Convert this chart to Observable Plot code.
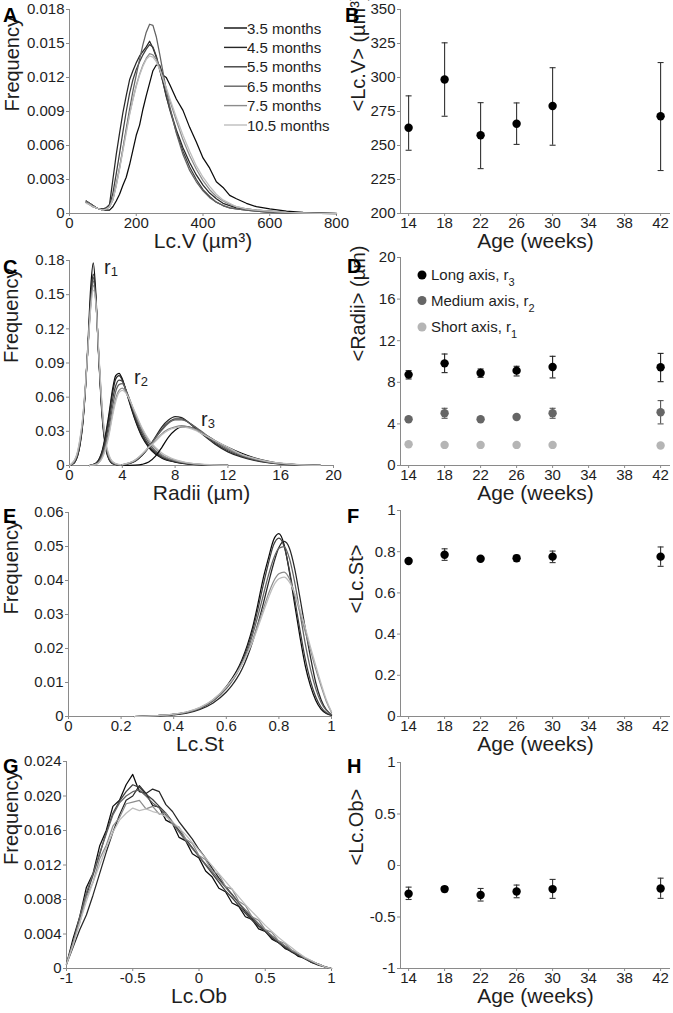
<!DOCTYPE html>
<html><head><meta charset="utf-8">
<script src="https://cdn.jsdelivr.net/npm/d3@7"></script>
<script src="https://cdn.jsdelivr.net/npm/@observablehq/plot@0.6"></script>
<style>
html,body{margin:0;padding:0;background:#fff;}
#fig{position:relative;width:673px;height:1013px;overflow:hidden;font-family:"Liberation Sans",Arial,sans-serif;}
#fig svg{overflow:visible;}
</style></head><body><div id="fig"></div>
<script>
// ---------- series ----------
const seriesNames = ["3.5 months","4.5 months","5.5 months","6.5 months","7.5 months","10.5 months"];
const seriesColors = ["#0a0a0a","#262626","#3f3f3f","#626262","#8c8c8c","#bdbdbd"];

// ---------- Panel A: Lc.V distributions ----------
const lcvX = [50,60,70,80,90,100,110,120,130,140,150,160,170,180,190,200,210,220,230,240,250,260,270,280,290,300,320,340,360,380,400,420,440,460,480,500,530,560,600,650,700,750,800];
const lcvF35 = [.0011,.0009,.0007,.0005,.0004,.0003,.0003,.0003,.0006,.0011,.0017,.0025,.0032,.0043,.0056,.0069,.0078,.0092,.0104,.0115,.0126,.0131,.0131,.0122,.0120,.0114,.0101,.0091,.0076,.0063,.0049,.0040,.0028,.0023,.0016,.0013,.0009,.0006,.0004,.0002,.0001,.00005,.00002];
const lcvF45 = [.0010,.0009,.0007,.0005,.0004,.0004,.0005,.0008,.0030,.0052,.0071,.0089,.0104,.0118,.0126,.0133,.0139,.0143,.0147,.0152,.0146,.0138,.0127,.0116,.0103,.0093,.0074,.0058,.0045,.0034,.0025,.0018,.0013,.0009,.0007,.0005,.0004,.0003,.0002,.0001,.00005,.00002,0];
const lcvF55 = [.0010,.0008,.0006,.0005,.0004,.0004,.0005,.0007,.0018,.0035,.0053,.0072,.0090,.0106,.0118,.0127,.0134,.0140,.0145,.0149,.0147,.0139,.0128,.0116,.0104,.0092,.0072,.0055,.0041,.0030,.0021,.0015,.0010,.0007,.0005,.0004,.0003,.0002,.0001,.00005,.00002,0,0];
const lcvF65 = [.0011,.0009,.0007,.0005,.0004,.0003,.0004,.0006,.0012,.0025,.0040,.0057,.0075,.0092,.0108,.0122,.0136,.0149,.0160,.0167,.0166,.0156,.0141,.0125,.0109,.0095,.0071,.0052,.0038,.0028,.0020,.0014,.0010,.0007,.0005,.0004,.0003,.0002,.0001,.00005,.00002,0,0];
const lcvF75 = [.0010,.0008,.0006,.0005,.0004,.0003,.0004,.0006,.0013,.0026,.0041,.0057,.0073,.0088,.0101,.0113,.0123,.0131,.0137,.0141,.0140,.0136,.0129,.0120,.0110,.0100,.0082,.0065,.0051,.0039,.0029,.0021,.0015,.0011,.0008,.0006,.0004,.0003,.0002,.0001,.00004,.00002,0];
const lcvF105 = [.0009,.0008,.0006,.0005,.0004,.0003,.0004,.0006,.0012,.0024,.0039,.0055,.0071,.0087,.0100,.0112,.0122,.0130,.0136,.0139,.0138,.0134,.0127,.0119,.0111,.0102,.0085,.0069,.0055,.0042,.0032,.0024,.0017,.0012,.0009,.0006,.0004,.0003,.0002,.0001,.00005,.00002,0];

// ---------- Panel C: radii distributions ----------
const r1X = [0,0.2,0.4,0.6,0.8,1.0,1.2,1.4,1.6,1.8,2.0,2.2,2.4,2.6,2.8,3.0,3.2,3.5,4.0];
const r1F35 = [0,.001,.003,.008,.018,.036,.066,.108,.155,.178,.150,.098,.055,.027,.012,.005,.002,.0008,.0002];
const r1F45 = [0,.001,.003,.008,.019,.037,.066,.104,.146,.168,.146,.099,.057,.029,.013,.006,.0025,.001,.0003];
const r1F55 = [0,.001,.004,.009,.020,.038,.067,.104,.143,.165,.145,.100,.058,.030,.014,.006,.003,.001,.0003];
const r1F65 = [0,.001,.004,.010,.021,.039,.068,.104,.141,.162,.144,.101,.060,.031,.015,.007,.003,.001,.0004];
const r1F75 = [0,.002,.005,.011,.023,.041,.069,.104,.139,.158,.143,.102,.062,.033,.016,.008,.004,.0015,.0005];
const r1F105 = [0,.002,.005,.012,.024,.042,.069,.103,.137,.154,.142,.103,.064,.035,.018,.009,.004,.0017,.0005];
const r2X = [1.5,2.0,2.5,3.0,3.25,3.5,3.75,4.0,4.25,4.5,5.0,5.5,6.0,6.5,7.0,8.0,9.0,10.0,11.0,12.0];
const r2F35 = [0,.002,.014,.046,.066,.079,.081,.076,.067,.057,.039,.025,.016,.010,.0065,.0030,.0013,.0006,.0002,.0001];
const r2F45 = [0,.002,.013,.043,.063,.076,.079,.075,.067,.058,.040,.026,.017,.011,.007,.0032,.0014,.0006,.0003,.0001];
const r2F55 = [0,.0015,.011,.038,.057,.070,.075,.074,.067,.059,.042,.028,.018,.012,.0075,.0035,.0016,.0007,.0003,.0001];
const r2F65 = [0,.0012,.009,.033,.051,.065,.071,.072,.067,.060,.044,.030,.020,.013,.0085,.0040,.0018,.0008,.0003,.0001];
const r2F75 = [0,.001,.008,.029,.045,.059,.066,.068,.065,.059,.045,.032,.022,.015,.0095,.0045,.0021,.0010,.0004,.0002];
const r2F105 = [0,.001,.007,.027,.043,.056,.064,.066,.064,.059,.046,.033,.023,.016,.011,.0052,.0024,.0011,.0005,.0002];
const r3X = [4,5,5.5,6,6.5,7,7.5,8,8.5,9,9.5,10,11,12,13,14,15,16,17,18,19];
const r3F35 = [0,.0003,.001,.003,.008,.016,.025,.031,.034,.034,.032,.029,.022,.016,.011,.0068,.0038,.0019,.0009,.0004,.0001];
const r3F45 = [.0005,.004,.009,.016,.025,.034,.040,.043,.042,.038,.033,.028,.019,.012,.0075,.0045,.0025,.0013,.0006,.0003,.0001];
const r3F55 = [.0006,.004,.009,.016,.024,.032,.038,.041,.041,.038,.034,.029,.020,.013,.0082,.0049,.0028,.0015,.0007,.0003,.0001];
const r3F65 = [.0006,.0045,.0095,.016,.024,.031,.037,.040,.040,.038,.034,.030,.021,.014,.0088,.0053,.0030,.0016,.0008,.0003,.0001];
const r3F75 = [.0007,.005,.010,.016,.022,.028,.032,.034,.035,.034,.032,.029,.022,.015,.0098,.006,.0035,.0019,.0009,.0004,.0002];
const r3F105 = [.0008,.005,.010,.016,.021,.027,.031,.033,.034,.033,.031,.028,.022,.016,.010,.0063,.0037,.0020,.0010,.0004,.0002];

// ---------- Panel E: Lc.St distributions ----------
const stX = [0.25,0.3,0.35,0.4,0.45,0.5,0.55,0.6,0.62,0.64,0.66,0.68,0.7,0.72,0.74,0.76,0.78,0.8,0.82,0.84,0.86,0.88,0.9,0.92,0.94,0.96,0.98,1.0];
const stF35 = [0,.0001,.0003,.0006,.0012,.0025,.0048,.0088,.0110,.0135,.0168,.0210,.0262,.0330,.0405,.0465,.0520,.0538,.0505,.0425,.0330,.0235,.0150,.0090,.0048,.0022,.0009,.0003];
const stF45 = [0,.0001,.0002,.0005,.0010,.0021,.0040,.0072,.0090,.0112,.0140,.0176,.0220,.0272,.0330,.0392,.0450,.0497,.0515,.0495,.0435,.0350,.0260,.0175,.0100,.0050,.0020,.0006];
const stF55 = [0,.0001,.0003,.0006,.0012,.0024,.0046,.0084,.0105,.0130,.0162,.0202,.0252,.0315,.0385,.0450,.0505,.0525,.0500,.0430,.0345,.0255,.0170,.0105,.0058,.0028,.0011,.0004];
const stF65 = [0,.0001,.0003,.0006,.0012,.0024,.0046,.0082,.0102,.0126,.0156,.0193,.0240,.0295,.0355,.0415,.0465,.0495,.0500,.0465,.0395,.0305,.0215,.0140,.0082,.0042,.0018,.0006];
const stF75 = [0,.0001,.0003,.0007,.0013,.0026,.0049,.0086,.0105,.0128,.0155,.0187,.0225,.0270,.0315,.0360,.0398,.0420,.0425,.0405,.0360,.0305,.0250,.0195,.0140,.0090,.0045,.0012];
const stF105 = [0,.0001,.0003,.0007,.0014,.0027,.0050,.0087,.0106,.0128,.0154,.0185,.0220,.0262,.0305,.0348,.0385,.0405,.0410,.0395,.0362,.0315,.0262,.0205,.0150,.0098,.0050,.0014];

// ---------- Panel G: Lc.Ob distributions ----------
const obX = [-1,-0.95,-0.9,-0.85,-0.8,-0.75,-0.7,-0.65,-0.6,-0.55,-0.5,-0.45,-0.4,-0.35,-0.3,-0.25,-0.2,-0.15,-0.1,-0.05,0,0.05,0.1,0.15,0.2,0.25,0.3,0.35,0.4,0.45,0.5,0.55,0.6,0.65,0.7,0.75,0.8,0.85,0.9,0.95,1];
const obF35 = [.0005,.0035,.0060,.0094,.0110,.0142,.0160,.0188,.0195,.0213,.0225,.0205,.0203,.0189,.0187,.0172,.0168,.0152,.0148,.0133,.0128,.0113,.0106,.0093,.0089,.0076,.0072,.0060,.0057,.0046,.0043,.0034,.0030,.0023,.0020,.0014,.0012,.0007,.0005,.0002,0];
const obF45 = [.0005,.0025,.0045,.0062,.0085,.0110,.0135,.0158,.0178,.0195,.0200,.0212,.0203,.0208,.0205,.0190,.0182,.0170,.0160,.0150,.0138,.0128,.0116,.0105,.0095,.0086,.0076,.0066,.0058,.0050,.0043,.0036,.0030,.0024,.0019,.0015,.0011,.0007,.0004,.0002,0];
const obF55 = [.0005,.0030,.0058,.0085,.0108,.0132,.0158,.0180,.0194,.0205,.0213,.0210,.0202,.0196,.0188,.0180,.0170,.0160,.0150,.0140,.0130,.0120,.0110,.0100,.0090,.0082,.0073,.0064,.0056,.0049,.0043,.0036,.0030,.0025,.0020,.0016,.0012,.0008,.0005,.0002,0];
const obF65 = [.0005,.0030,.0060,.0088,.0110,.0134,.0156,.0178,.0192,.0200,.0205,.0207,.0200,.0192,.0186,.0178,.0168,.0158,.0148,.0139,.0130,.0121,.0112,.0103,.0094,.0085,.0076,.0068,.0060,.0052,.0045,.0038,.0032,.0026,.0021,.0016,.0012,.0008,.0005,.0002,0];
const obF75 = [.0005,.0030,.0053,.0083,.0100,.0127,.0143,.0165,.0175,.0191,.0193,.0195,.0185,.0188,.0179,.0180,.0167,.0164,.0150,.0145,.0131,.0126,.0113,.0109,.0095,.0092,.0078,.0073,.0060,.0056,.0045,.0042,.0032,.0029,.0021,.0018,.0012,.0009,.0005,.0002,0];
const obF105 = [.0005,.0027,.0053,.0078,.0100,.0120,.0140,.0158,.0172,.0180,.0186,.0183,.0185,.0182,.0180,.0176,.0170,.0163,.0155,.0146,.0137,.0128,.0119,.0110,.0101,.0092,.0083,.0074,.0066,.0058,.0050,.0043,.0036,.0030,.0024,.0018,.0013,.0009,.0005,.0002,0];

// ---------- Age panels ----------
const ages = [14,18,22,26,30,42];
const ageTicks = [14,18,22,26,30,34,38,42];
const lcvMean = [263,298.5,257.5,266,279,271.5];
const lcvLo   = [246.5,271.5,233,250.8,250.2,231.6];
const lcvHi   = [286.5,325.5,281.5,281.3,307.2,311];
const radiiNames = ["Long axis, r3","Medium axis, r2","Short axis, r1"];
const r3Mean = [8.74,9.82,8.9,9.12,9.47,9.44];
const r3Lo   = [8.32,8.93,8.48,8.61,8.42,8.06];
const r3Hi   = [9.12,10.72,9.28,9.54,10.5,10.78];
const r2Mean = [4.45,5.02,4.45,4.67,5.02,5.12];
const r2Lo   = [4.3,4.54,4.35,4.52,4.54,4.0];
const r2Hi   = [4.6,5.5,4.55,4.82,5.5,6.24];
const r1Mean = [2.05,1.98,1.98,1.98,1.98,1.92];
const r1Lo   = [2.0,1.94,1.94,1.94,1.94,1.87];
const r1Hi   = [2.1,2.02,2.02,2.02,2.02,1.97];
const stMean = [0.755,0.785,0.766,0.768,0.776,0.776];
const stLo   = [0.748,0.758,0.760,0.753,0.747,0.729];
const stHi   = [0.762,0.814,0.772,0.783,0.803,0.823];
const obMean = [-0.274,-0.229,-0.287,-0.252,-0.229,-0.223];
const obLo   = [-0.33,-0.255,-0.345,-0.313,-0.319,-0.319];
const obHi   = [-0.21,-0.206,-0.223,-0.19,-0.135,-0.123];

// ---------- helpers ----------
const AXIS = "#8a8a8a", INK = "#1e1e1e", FONT = '"Liberation Sans", Arial, sans-serif';
const fig = document.getElementById("fig");
const capSymbol = {draw(ctx, size) { const w = Math.sqrt(size / Math.PI); ctx.moveTo(-w, 0); ctx.lineTo(w, 0); }};
const colorScale = {domain: seriesNames, range: seriesColors};

function toRows(xs, list, group = "") {
  const out = [];
  list.forEach((ys, k) => ys.forEach((y, i) => out.push({x: xs[i], y, series: seriesNames[k], key: group + seriesNames[k]})));
  return out;
}
function statRows(means, los, his, group) {
  return ages.map((a, i) => ({age: a, v: means[i], lo: los[i], hi: his[i], group}));
}

function panel(cfg) {
  const [x0, x1, y0, y1] = cfg.frame;
  const [left, width] = cfg.col;
  const top = y0 - 9, height = y1 + 45 - top;
  const svg = Plot.plot({
    width, height,
    marginLeft: x0 - left, marginRight: left + width - x1, marginTop: 9, marginBottom: 45,
    x: {domain: cfg.xDomain}, y: {domain: cfg.yDomain},
    color: cfg.color,
    style: {fontSize: "15px", fontFamily: FONT, background: "transparent", color: INK, overflow: "visible"},
    marks: [
      Plot.ruleX([cfg.xDomain[0]], {stroke: AXIS, strokeWidth: 1}),
      Plot.ruleY([cfg.yDomain[0]], {stroke: AXIS, strokeWidth: 1}),
      Plot.axisX(cfg.xTicks, {tickSize: 3, tickPadding: 1, tickFormat: cfg.xFmt, stroke: AXIS, fill: INK, label: null}),
      Plot.axisY(cfg.yTicks, {tickSize: 3, tickPadding: 2, tickFormat: cfg.yFmt, stroke: AXIS, fill: INK, label: null}),
      ...cfg.marks,
      Plot.text([cfg.xLabel], {frameAnchor: "bottom", dy: 34, text: d => d, fontSize: 21, fill: INK}),
      Plot.text([cfg.yLabel], {frameAnchor: "left", dx: cfg.yLabelDx, rotate: -90, text: d => d, fontSize: 20, fill: INK})
    ]
  });
  svg.style.position = "absolute";
  svg.style.left = left + "px";
  svg.style.top = top + "px";
  fig.appendChild(svg);
}

const str = d => String(d);
const fix = n => d => d === 0 ? "0" : d.toFixed(n);

function distMarks(rows, curve) {
  return [Plot.line(rows, {x: "x", y: "y", z: "key", stroke: "series", strokeWidth: 1.25, curve})];
}
function statMarks(rows, barColor, dotFill) {
  return [
    Plot.ruleX(rows, {x: "age", y1: "lo", y2: "hi", stroke: barColor, strokeWidth: 1.1}),
    Plot.dot(rows, {x: "age", y: "lo", symbol: capSymbol, r: 3, stroke: barColor, strokeWidth: 1.1, fill: "none"}),
    Plot.dot(rows, {x: "age", y: "hi", symbol: capSymbol, r: 3, stroke: barColor, strokeWidth: 1.1, fill: "none"}),
    Plot.dot(rows, {x: "age", y: "v", r: 4.2, fill: dotFill, stroke: "none"})
  ];
}

// A
panel({frame: [69, 336, 9, 213], col: [0, 340], xDomain: [0, 800], yDomain: [0, 0.018],
  xTicks: [0,200,400,600,800], yTicks: [0,0.003,0.006,0.009,0.012,0.015,0.018], xFmt: str, yFmt: fix(3),
  color: colorScale, xLabel: "Lc.V (µm³)", yLabel: "Frequency", yLabelDx: -57,
  marks: distMarks(toRows(lcvX, [lcvF35, lcvF45, lcvF55, lcvF65, lcvF75, lcvF105]), "linear")});
// B
panel({frame: [400, 670, 9, 213], col: [340, 333], xDomain: [13.1, 43.1], yDomain: [200, 350],
  xTicks: ageTicks, yTicks: [200,225,250,275,300,325,350], xFmt: str, yFmt: str,
  xLabel: "Age (weeks)", yLabel: "<Lc.V> (µm³)", yLabelDx: -42,
  marks: statMarks(statRows(lcvMean, lcvLo, lcvHi, "v"), "#333", "#000")});
// C
panel({frame: [69, 333, 260, 465], col: [0, 340], xDomain: [0, 20], yDomain: [0, 0.18],
  xTicks: [0,4,8,12,16,20], yTicks: [0,0.03,0.06,0.09,0.12,0.15,0.18], xFmt: str, yFmt: fix(2),
  color: colorScale, xLabel: "Radii (µm)", yLabel: "Frequency", yLabelDx: -58,
  marks: distMarks([
    ...toRows(r1X, [r1F35, r1F45, r1F55, r1F65, r1F75, r1F105], "r1"),
    ...toRows(r2X, [r2F35, r2F45, r2F55, r2F65, r2F75, r2F105], "r2"),
    ...toRows(r3X, [r3F35, r3F45, r3F55, r3F65, r3F75, r3F105], "r3")], "monotone-x")});
// D
panel({frame: [400, 670, 257, 465], col: [340, 333], xDomain: [13.1, 43.1], yDomain: [0, 20],
  xTicks: ageTicks, yTicks: [0,4,8,12,16,20], xFmt: str, yFmt: str,
  xLabel: "Age (weeks)", yLabel: "<Radii> (µm)", yLabelDx: -42,
  marks: [
    ...statMarks(statRows(r1Mean, r1Lo, r1Hi, "r1"), "#b5b5b5", "#b5b5b5"),
    ...statMarks(statRows(r2Mean, r2Lo, r2Hi, "r2"), "#555", "#666"),
    ...statMarks(statRows(r3Mean, r3Lo, r3Hi, "r3"), "#222", "#000")]});
// E
panel({frame: [68, 331, 512, 716], col: [0, 340], xDomain: [0, 1], yDomain: [0, 0.06],
  xTicks: [0,0.2,0.4,0.6,0.8,1], yTicks: [0,0.01,0.02,0.03,0.04,0.05,0.06], xFmt: str, yFmt: fix(2),
  color: colorScale, xLabel: "Lc.St", yLabel: "Frequency", yLabelDx: -57,
  marks: distMarks(toRows(stX, [stF35, stF45, stF55, stF65, stF75, stF105]), "monotone-x")});
// F
panel({frame: [400, 670, 510, 716], col: [340, 333], xDomain: [13.1, 43.1], yDomain: [0, 1],
  xTicks: ageTicks, yTicks: [0,0.2,0.4,0.6,0.8,1], xFmt: str, yFmt: str,
  xLabel: "Age (weeks)", yLabel: "<Lc.St>", yLabelDx: -44,
  marks: statMarks(statRows(stMean, stLo, stHi, "st"), "#333", "#000")});
// G
panel({frame: [66, 331, 761, 968], col: [0, 340], xDomain: [-1, 1], yDomain: [0, 0.024],
  xTicks: [-1,-0.5,0,0.5,1], yTicks: [0,0.004,0.008,0.012,0.016,0.020,0.024], xFmt: str, yFmt: fix(3),
  color: colorScale, xLabel: "Lc.Ob", yLabel: "Frequency", yLabelDx: -55,
  marks: distMarks(toRows(obX, [obF35, obF45, obF55, obF65, obF75, obF105]), "linear")});
// H
panel({frame: [400, 670, 762, 968], col: [340, 333], xDomain: [13.1, 43.1], yDomain: [-1, 1],
  xTicks: ageTicks, yTicks: [-1,-0.5,0,0.5,1], xFmt: str, yFmt: str,
  xLabel: "Age (weeks)", yLabel: "<Lc.Ob>", yLabelDx: -44,
  marks: statMarks(statRows(obMean, obLo, obHi, "ob"), "#333", "#000")});

// ---------- overlay: panel letters, legends, annotations ----------
const ov = d3.select(fig).append("svg")
  .attr("width", 673).attr("height", 1013)
  .style("position", "absolute").style("left", "0px").style("top", "0px")
  .style("font-family", FONT).style("pointer-events", "none");
const letters = [["A",3,22],["B",345,22],["C",3,274],["D",347,273],["E",3,523],["F",347,523],["G",3,773],["H",347,773]];
ov.selectAll("text.letter").data(letters).join("text").attr("class", "letter")
  .attr("x", d => d[1]).attr("y", d => d[2]).attr("font-size", 20).attr("font-weight", "bold").attr("fill", "#000").text(d => d[0]);

const legA = ov.append("g").attr("transform", "translate(224,28)");
seriesNames.forEach((name, i) => {
  const g = legA.append("g").attr("transform", `translate(0,${i * 19.4})`);
  g.append("line").attr("x1", 0).attr("x2", 23).attr("stroke", seriesColors[i]).attr("stroke-width", 1.4);
  g.append("text").attr("x", 23).attr("y", 5.5).attr("font-size", 15).attr("fill", INK).text(name);
});

const legD = ov.append("g").attr("transform", "translate(422,275)");
const legDColors = ["#000", "#666", "#b5b5b5"];
const legDText = [["Long axis, r","3"],["Medium axis, r","2"],["Short axis, r","1"]];
legDText.forEach((t, i) => {
  const g = legD.append("g").attr("transform", `translate(0,${[0, 25.5, 52][i]})`);
  g.append("circle").attr("r", 4.5).attr("fill", legDColors[i]);
  const tx = g.append("text").attr("x", 9).attr("y", 5).attr("font-size", 15).attr("fill", INK);
  tx.append("tspan").text(t[0]);
  tx.append("tspan").attr("dy", 6).attr("font-size", 11).text(t[1]);
});

const ann = [["r","1",104,274],["r","2",134,384],["r","3",201,426]];
ann.forEach(a => {
  const tx = ov.append("text").attr("x", a[2]).attr("y", a[3]).attr("font-size", 20).attr("fill", INK);
  tx.append("tspan").text(a[0]);
  tx.append("tspan").attr("dy", 2).attr("font-size", 13).text(a[1]);
});
</script>
</body></html>
